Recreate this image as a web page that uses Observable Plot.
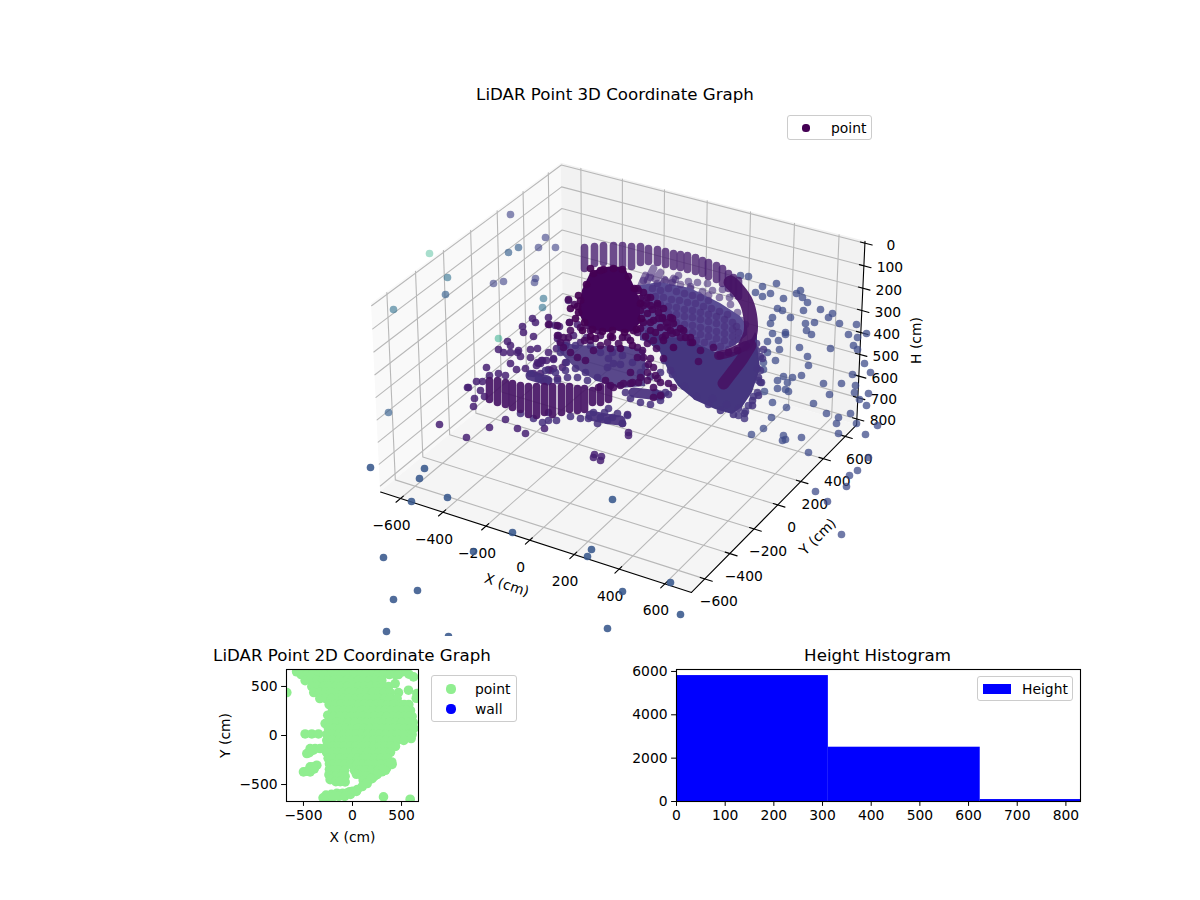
<!DOCTYPE html>
<html><head><meta charset="utf-8">
<script src="https://cdn.jsdelivr.net/npm/d3@7"></script>
<script src="https://cdn.jsdelivr.net/npm/@observablehq/plot@0.6"></script>
<style>
html,body{margin:0;background:#fff}
#page{position:relative;width:1200px;height:900px;overflow:hidden;font-family:"DejaVu Sans",sans-serif;color:#000}
#page svg{position:absolute;background:none}
.title{position:absolute;font-size:16.67px;line-height:20px;white-space:nowrap;transform:translate(-50%,-50%)}
.legend{position:absolute;box-sizing:border-box;border:1px solid #ccc;border-radius:3px;background:rgba(255,255,255,.8);font-size:13.89px}
.legend span{position:absolute;white-space:nowrap;line-height:16px}
.legend i{position:absolute;display:block}
</style></head><body><div id="page"></div>
<script>
// ---------- 3D axis ticks (cm) ----------
const xTicks3d=[-600,-400,-200,0,200,400,600];
const yTicks3d=[-600,-400,-200,0,200,400,600];
const hTicks3d=[0,100,200,300,400,500,600,700,800];
// ---------- points as read on the view plane of the 3D picture ----------
const farGreen=[[429,253]];
const nearGreen=[[498,338]];
const tealFar=[[447,277],[393,309],[543,298],[542,307]];
const blueFar=[[445,294],[508,252],[518,247],[388,412]];
const purpleFar=[[510,214],[545,237],[538,247],[555,247],[503,281],[493,283],[535,278],[534,282]];
const leftScatter=[[568,300],[532,318],[535,322],[522,326],[523,332],[533,336],[548,317],[549,324],[555,325],[559,326],[558,335],[557,338],[569,322],[577,324],[498,349],[503,352],[510,352],[507,341],[510,345],[518,350],[517,352],[520,356],[530,349],[530,357],[537,348],[541,360],[546,360],[537,362],[553,358],[486,367],[467,387],[480,390],[482,381],[489,375],[498,373],[505,375],[474,398],[473,406],[468,387],[476,381],[484,396],[439,424],[466,437],[489,427],[505,419],[517,428],[525,433],[544,428],[627,414],[622,423],[628,432],[628,435],[594,454],[593,457],[601,456],[600,460],[550,370],[542,360],[538,363],[533,373],[540,373],[543,380],[557,378],[562,367],[565,362],[553,359],[540,363],[536,365],[548,369],[553,368],[510,363],[516,369],[525,368],[548,352],[556,348],[566,342],[573,335],[580,342],[586,337]];
const rightScatter=[[740,275],[748,276],[762,286],[776,283],[770,293],[762,296],[755,292],[783,298],[800,290],[796,293],[802,297],[807,302],[820,309],[832,313],[828,317],[839,323],[856,324],[866,333],[848,334],[857,337],[853,345],[857,349],[830,348],[803,310],[790,317],[777,308],[782,310],[772,317],[770,323],[805,323],[814,322],[806,330],[811,334],[772,333],[785,332],[785,334],[778,340],[767,341],[779,349],[767,352],[799,347],[807,356],[808,365],[775,360],[763,362],[763,369],[783,376],[792,377],[787,382],[801,375],[777,380],[823,383],[841,383],[852,374],[864,363],[870,372],[855,385],[854,392],[868,393],[859,399],[866,405],[829,394],[813,403],[764,391],[777,388],[785,389],[788,391],[772,402],[786,407],[826,413],[838,417],[850,413],[856,423],[877,425],[865,434],[838,433],[771,417],[763,428],[751,434],[783,435],[801,437],[782,440],[785,439],[808,452],[868,457],[857,470],[849,475],[846,486],[815,491],[827,501],[841,534],[836,423]];
const rightNearEdge=[[744,418],[738,415],[753,396],[758,380],[756,343],[763,349],[762,358],[760,370],[761,382],[757,392],[745,411],[748,405]];
const bottomScatter=[[370,467],[424,468],[419,478],[411,501],[447,497],[612,499],[512,532],[473,551],[591,549],[587,556],[670,582],[622,591],[680,614],[607,628],[448,636],[386,631],[417,590],[393,599],[383,557]];
// columns of overlapping points: x, top, bottom
const backColumnX=[584,594,603,613,622,631,640,648,657,665,673,680,687,695,702,708,716,722,728,733,738];
const backColumnTop=[247,246,245,245,245,246,246,248,249,251,253,254,255,257,260,262,265,268,273,277,280];
const backColumnBot=[268,263,262,264,265,266,262,261,262,264,266,267,269,271,273,276,279,283,288,293,296];
const slantFromX=[653,665,673,682,690,698,708,645,660], slantFromY=[268,280,278,290,288,295,295,275,272];
const slantToX=[647,658,665,675,683,690,697,641,655], slantToY=[280,288,293,298,300,303,307,284,279];
const frontColumnX=[489,497,505,512,520,528,536,544,552,561,569,577,584,592,600,608];
const frontColumnTop=[380,380,382,383,385,386,386,386,386,386,386,388,388,390,386,386];
const frontColumnBot=[399,402,404,407,409,414,415,412,414,412,409,410,409,402,402,399];
const domeDots=[[643,280],[650,277],[657,283],[664,279],[672,282],[680,284],[652,288],[660,290],[668,288],[676,291],[684,293],[692,295],[700,297],[708,300],[655,296],[663,297],[671,299],[679,300],[687,302],[695,303],[703,306],[711,308],[719,311],[727,314],[660,304],[668,306],[676,307],[684,309],[692,310],[700,312],[708,314],[716,316],[724,319],[732,322],[736,326],[668,313],[676,314],[684,316],[692,317],[700,319],[708,321],[716,323],[724,326],[732,329],[738,332],[676,322],[684,324],[692,325],[700,327],[708,329],[716,331],[724,333],[732,336],[738,339],[684,331],[692,332],[700,334],[708,336],[716,338],[724,340],[732,343],[696,340],[704,342],[712,344],[720,346],[728,349]];
const domeRim=[[678,275],[675,279],[697,282],[707,283],[712,290],[719,297],[730,304],[737,312],[741,320],[690,286],[702,291],[688,281],[722,289],[729,297],[745,324]];
const domeLowerEdge=[[664,360],[672,374],[684,386],[696,396],[708,404],[720,410],[733,414],[744,413],[752,405],[758,395],[760,382],[757,368],[760,356],[752,400],[738,408],[726,404],[712,398],[756,350],[758,377]];
const midCluster=[[565,345],[590,345],[600,352],[612,352],[622,355],[632,362],[645,366],[575,345],[608,358],[620,364],[560,352],[566,362],[575,368],[585,372],[545,370],[555,372],[565,370],[640,372],[650,376],[660,372],[670,370],[655,392],[665,392],[530,373],[538,378],[547,380],[557,380],[567,377],[577,377],[587,380],[597,377],[607,367],[613,363],[593,412],[600,417],[608,408],[617,413],[622,423],[627,415],[588,418],[580,418],[548,420],[542,422],[533,418],[520,413],[607,420],[597,423],[604,412],[612,417],[548,412],[556,420],[570,416],[625,392],[630,398],[640,402],[650,404],[660,400],[668,394]];
const darkArms=[[548,324],[568,299],[574,304],[557,325],[569,322],[570,330],[580,327],[587,325],[590,330],[597,330],[607,328],[557,335],[563,337],[568,337],[560,342],[563,347],[570,352],[577,357],[585,360],[593,350],[600,345],[607,342],[618,343],[627,337],[637,332],[637,357],[643,357],[650,358],[637,347],[647,343],[653,340],[662,337],[672,333],[680,337],[690,342],[700,350],[713,347],[720,355],[728,352],[737,350],[698,361],[663,358],[653,367],[647,372],[640,377],[632,382],[623,383],[613,387],[598,387],[660,382],[653,387],[668,383],[673,387],[653,397],[660,395],[610,385],[620,385],[630,383],[638,382],[647,380],[657,378],[605,380],[630,372],[655,375],[610,348],[642,350],[656,348],[648,364],[584,340],[600,335],[590,340]];
const darkDiagonal=[[637,288],[643,292],[650,297],[657,303],[663,308],[662,317],[670,317],[673,323],[667,327],[683,330],[690,337],[640,310],[647,313],[653,320],[660,327],[643,322],[650,330],[637,320],[633,330],[627,323],[640,298],[646,303],[652,309],[643,305],[635,300],[630,340],[645,336],[655,332],[665,335],[612,337],[622,337],[595,338],[638,290],[647,297],[657,305],[672,318],[680,328],[685,337],[692,342],[662,318],[670,330],[663,340],[673,347],[650,305],[658,312],[666,322],[676,332],[640,328],[650,322],[658,318],[632,345],[620,348]];
const blobEdge=[[580,300],[578,312],[584,322],[592,329],[602,331],[612,330],[624,332],[636,329],[641,318],[640,303],[634,288],[628,276],[622,269],[613,268],[603,269],[593,273],[586,284],[577,306],[590,268],[600,270],[575,318],[582,330],[590,336],[610,336],[570,308],[578,295]];
// thick streaks of overlapping points
const blueStreak3=[[530,375],[547,380]];
const blueStreak4=[[590,415],[605,418],[620,420]];
const blueStreak5=[[633,392],[660,395]];
const ribbonUpper=[[730,282],[738,290],[746,302],[750,318],[750,332],[745,344]];
const ribbonLower=[[750,345],[742,358],[733,370],[723,383]];
const ribbonBranch=[[718,355],[730,352],[745,345]];
// ---------- dense silhouettes: upper and lower outline ----------
const blobUpper=[[578,312],[582,290],[590,273],[600,268],[613,266],[625,268],[632,282],[640,300]];
const blobLower=[[578,312],[585,325],[595,330],[605,332],[615,330],[625,333],[635,330],[640,322]];
const domeBackUpper=[[640,285],[660,282],[690,288],[720,303],[740,316],[747,326]];
const domeBackLower=[[640,340],[660,345],[690,350],[720,352],[735,345],[747,335]];
const domeUpper=[[645,330],[665,337],[685,338],[700,345],[715,352],[735,352],[745,345],[752,338],[755,332],[757,335],[757,340]];
const domeLower=[[645,340],[660,352],[668,370],[678,386],[695,400],[715,409],[732,414],[742,407],[752,392],[760,368],[757,345]];
const midUpper=[[556,340],[575,345],[600,346],[625,346],[645,350]];
const midLower=[[558,350],[575,368],[597,381],[620,388],[645,386]];
// ---------- 2D panel ----------
const scan2d=[
[-570,650],[-510,650],[-450,650],[-390,650],[-330,650],[-270,650],[-210,650],[-150,650],[-90,650],[-30,650],[30,650],[90,650],[150,650],[210,650],[270,650],[330,650],[390,650],[450,650],[510,650],
[-524,622],[-464,622],[-404,622],[-344,622],[-284,622],[-224,622],[-164,622],[-104,622],[-44,622],[16,622],[76,622],[136,622],[196,622],[256,622],[316,622],[376,622],[436,622],[469,622],[622,598],[575,625],
[-483,560],[-423,560],[-363,560],[-303,560],[-243,560],[-183,560],[-123,560],[-63,560],[-3,560],[57,560],[117,560],[177,560],[237,560],[299,560],
[-415,499],[-355,499],[-295,499],[-235,499],[-175,499],[-115,499],[-55,499],[5,499],[65,499],[125,499],[185,499],[245,499],[305,499],[367,499],[435,530],[571,462],
[-395,438],[-335,438],[-275,438],[-215,438],[-155,438],[-95,438],[-35,438],[25,438],[85,438],[145,438],[205,438],[265,438],[325,438],[385,438],[469,438],[656,428],[650,380],
[-333,377],[-273,377],[-213,377],[-153,377],[-93,377],[-33,377],[27,377],[87,377],[147,377],[207,377],[267,377],[327,377],[387,377],[455,377],
[-238,316],[-178,316],[-118,316],[-58,316],[2,316],[62,316],[122,316],[182,316],[242,316],[302,316],[362,316],[422,316],[482,316],[574,316],[528,316],
[-204,255],[-144,255],[-84,255],[-24,255],[36,255],[96,255],[156,255],[216,255],[276,255],[336,255],[396,255],[456,255],[516,255],[591,255],[550,255],
[-252,207],[-192,194],[-132,194],[-72,194],[-12,194],[48,194],[108,194],[168,194],[228,194],[288,194],[348,194],[408,194],[468,194],[528,194],[608,194],[570,194],
[-279,122],[-219,133],[-159,133],[-99,133],[-39,133],[21,133],[81,133],[141,133],[201,133],[261,133],[321,133],[381,133],[441,133],[501,133],[561,133],[619,133],
[-245,72],[-185,72],[-125,72],[-65,72],[-5,72],[55,72],[115,72],[175,72],[235,72],[295,72],[355,72],[415,72],[475,72],[535,72],[595,72],[625,72],
[-483,16],[-415,16],[-347,16],[-262,11],[-202,11],[-142,11],[-82,11],[-22,11],[38,11],[98,11],[158,11],[218,11],[278,11],[338,11],[398,11],[458,11],[518,11],[578,11],[608,11],
[-262,-50],[-202,-50],[-142,-50],[-82,-50],[-22,-50],[38,-50],[98,-50],[158,-50],[218,-50],[278,-50],[338,-50],[398,-50],[458,-50],[523,-50],[598,-31],
[-466,-184],[-432,-133],[-381,-133],[-330,-133],[-440,-175],[-400,-150],
[-265,-111],[-205,-111],[-145,-111],[-85,-111],[-25,-111],[35,-111],[95,-111],[155,-111],[215,-111],[275,-111],[335,-111],[395,-111],[438,-111],
[-265,-172],[-205,-172],[-145,-172],[-85,-172],[-25,-172],[35,-172],[95,-172],[155,-172],[215,-172],[275,-172],[335,-172],[387,-172],
[-248,-233],[-188,-233],[-128,-233],[-68,-233],[-8,-233],[52,-233],[112,-233],[172,-233],[232,-233],[292,-233],[353,-233],
[-235,-290],[-197,-294],[-137,-294],[-77,-294],[-17,-294],[43,-294],[103,-294],[163,-294],[223,-294],[283,-294],[343,-294],[404,-294],[400,-270],[350,-330],[300,-370],[250,-400],
[-500,-371],[-432,-371],[-432,-320],[-364,-303],[-390,-340],[-465,-365],[-400,-320],
[-235,-345],[-200,-355],[-140,-355],[-80,-355],[20,-355],[80,-355],[140,-355],[200,-355],[260,-355],[336,-355],[300,-340],
[-240,-400],[-228,-416],[-168,-416],[-108,-416],[-75,-416],[40,-395],[100,-416],[160,-416],[220,-416],[251,-390],
[-228,-450],[-170,-470],[-125,-470],[-75,-473],[110,-460],[146,-475],[200,-440],
[-270,-607],[-215,-600],[-160,-590],[-100,-590],[-30,-575],[50,-550],[100,-520],[0,-570],[-50,-585],[-130,-598],
[-300,-635],[-260,-640],[-200,-625],[-140,-620],[-80,-620],[-20,-600],[40,-570],[180,-440],[150,-490],
[-670,438],[316,-626],[588,-650]];
const xTicks2d=[-500,0,500], yTicks2d=[-500,0,500];
// ---------- histogram ----------
const binStart=[0,312,624], binEnd=[312,624,936], binCount=[5810,2505,90];
const histXTicks=[0,100,200,300,400,500,600,700,800], histYTicks=[0,2000,4000,6000];

// ---------- camera for the 3D box ----------
const xLim=[-695,715], yLim=[-705,705], hLim=[828,-8]; // hLim: floor, ceiling
const half=[.595,.595,.36];
const U=[.866,.5,0],V=[-.25,.433,.866],W=[.433,-.75,.5];
const dot3=(a,b)=>a[0]*b[0]+a[1]*b[1]+a[2]*b[2];
function project(X,Y,H){
  const q=[(2*(X-xLim[0])/(xLim[1]-xLim[0])-1)*half[0],(2*(Y-yLim[0])/(yLim[1]-yLim[0])-1)*half[1],(2*(H-hLim[0])/(hLim[1]-hLim[0])-1)*half[2]];
  const d=10-dot3(q,W);
  return {x:622.5+2980*dot3(q,U)/d,y:366.1-2980*dot3(q,V)/d};
}
const [x0,x1]=xLim,[y0,y1]=yLim,[hb,ht]=hLim;
const pane=(a,b)=>[{a:project(...a[0]),b:project(...b[0])},{a:project(...a[1]),b:project(...b[1])}];
const paneMark=(p,fill)=>Plot.area(p,{x1:d=>d.a.x,y1:d=>d.a.y,x2:d=>d.b.x,y2:d=>d.b.y,fill});
const gridLines=[];
const addLine=(id,pts)=>pts.forEach(p=>gridLines.push({id,...project(...p)}));
xTicks3d.forEach(t=>addLine("x"+t,[[t,y0,hb],[t,y1,hb],[t,y1,ht]]));
yTicks3d.forEach(t=>addLine("y"+t,[[x1,t,hb],[x0,t,hb],[x0,t,ht]]));
hTicks3d.forEach(t=>addLine("h"+t,[[x0,y0,t],[x0,y1,t],[x1,y1,t]]));
const axisLines=[];
const addAxis=(id,pts)=>pts.forEach(p=>axisLines.push({id,...project(...p)}));
addAxis("ax",[[x0,y0,hb],[x1,y0,hb]]);
addAxis("ay",[[x1,y0,hb],[x1,y1,hb]]);
addAxis("ah",[[x1,y1,ht],[x1,y1,hb]]);
xTicks3d.forEach(t=>addAxis("tx"+t,[[t,y0+20,hb],[t,y0-32,hb]]));
yTicks3d.forEach(t=>addAxis("ty"+t,[[x1-20,t,hb],[x1+32,t,hb]]));
hTicks3d.forEach(t=>addAxis("th"+t,[[x1-20,y1,t],[x1+32,y1,t]]));
const tickText=(vals,fn,dx,dy)=>Plot.text(vals,{x:d=>fn(d).x,y:d=>fn(d).y,text:d=>String(d).replace("-","−"),dx,dy,fontSize:13.89,fill:"#000"});
const dots=(p,t,o)=>Plot.dot(p,{x:d=>d[0],y:d=>d[1],r:3.8,fill:()=>t,fillOpacity:o});
const streak=(p,t,w,o=.92)=>Plot.line(p,{x:d=>d[0],y:d=>d[1],stroke:()=>t,strokeWidth:w,strokeOpacity:o,strokeLinecap:"round",strokeLinejoin:"round",curve:"catmull-rom"});
const columns=(xs,tops,bots,t,o)=>Plot.link(xs,{x1:d=>d,x2:d=>d,y1:(d,i)=>tops[i],y2:(d,i)=>bots[i],stroke:()=>t,strokeWidth:7.6,strokeOpacity:o,strokeLinecap:"round"});
const band=(upper,lower)=>upper.map((u,i)=>({u,l:lower[i]}));
const bandMark=(upper,lower,fill,fillOpacity=1)=>Plot.area(band(upper,lower),{x1:d=>d.u[0],y1:d=>d.u[1],x2:d=>d.l[0],y2:d=>d.l[1],fill,fillOpacity});

const chart3d=Plot.plot({width:640,height:506,margin:0,
  x:{domain:[290,930],axis:null},y:{domain:[636,130],axis:null},
  color:{type:"linear",scheme:"viridis",domain:[0,1]},
  style:{fontFamily:"DejaVu Sans",background:"none"},
  marks:[
   paneMark(pane([[x0,y0,hb],[x0,y1,hb]],[[x0,y0,ht],[x0,y1,ht]]),"#f9f9f9"),
   paneMark(pane([[x0,y1,hb],[x1,y1,hb]],[[x0,y1,ht],[x1,y1,ht]]),"#f2f2f2"),
   paneMark(pane([[x0,y0,hb],[x1,y0,hb]],[[x0,y1,hb],[x1,y1,hb]]),"#f5f5f5"),
   Plot.line(gridLines,{x:"x",y:"y",z:"id",stroke:"#b8b8b8",strokeWidth:1.1}),
   Plot.line(axisLines,{x:"x",y:"y",z:"id",stroke:"#000",strokeWidth:1.1}),
   tickText(xTicks3d,d=>project(d,y0,hb),-9,27),
   tickText(yTicks3d,d=>project(x1,d,hb),14,23),
   tickText(hTicks3d,d=>project(x1,y1,d),26,2),
   Plot.text([0],{x:()=>project(0,y0,hb).x,y:()=>project(0,y0,hb).y,dx:-23,dy:45,rotate:18,text:()=>"X (cm)",fontSize:13.89,fill:"#000"}),
   Plot.text([0],{x:()=>project(x1,0,hb).x,y:()=>project(x1,0,hb).y,dx:40,dy:32,rotate:-45,text:()=>"Y (cm)",fontSize:13.89,fill:"#000"}),
   Plot.text([0],{x:()=>project(x1,y1,400).x,y:()=>project(x1,y1,400).y,dx:56,dy:8,rotate:-90,text:()=>"H (cm)",fontSize:13.89,fill:"#000"}),
   dots(farGreen,.62,.4),dots(tealFar,.36,.6),dots(blueFar,.3,.65),dots(purpleFar,.2,.62),dots(nearGreen,.6,.5),
   dots(bottomScatter,.27,.88),dots(rightScatter,.23,.74),
   columns(backColumnX,backColumnTop,backColumnBot,.08,.78),
   Plot.link(slantFromX,{x1:d=>d,y1:(d,i)=>slantFromY[i],x2:(d,i)=>slantToX[i],y2:(d,i)=>slantToY[i],stroke:()=>.12,strokeWidth:7.5,strokeOpacity:.6,strokeLinecap:"round"}),
   dots(domeRim,.13,.6),
   bandMark(domeBackUpper,domeBackLower,"#5a4d94"),
   dots(domeDots,.12,.55),
   dots(rightNearEdge,.16,.82),
   dots(leftScatter,.09,.85),
   bandMark(domeUpper,domeLower,"#45367f"),
   dots(domeLowerEdge,.15,.88),
   bandMark(midUpper,midLower,"#43307c",.88),
   streak(blueStreak3,.13,10),streak(blueStreak4,.13,10),streak(blueStreak5,.13,10),
   dots(midCluster,.14,.85),
   columns(frontColumnX,frontColumnTop,frontColumnBot,.05,.92),
   streak(ribbonUpper,.05,14),streak(ribbonLower,.05,12),streak(ribbonBranch,.04,9),
   dots(darkArms,.03,.88),
   dots(darkDiagonal,.015,.92),
   bandMark(blobUpper,blobLower,"#43045a"),
   dots(blobEdge,0,.92)
  ]});
chart3d.style.left="290px";chart3d.style.top="130px";

const axisStyle={fontFamily:"DejaVu Sans",fontSize:"13.89px",background:"none",color:"#000"};
const plain=d=>String(d).replace("-","−");
const chart2d=Plot.plot({width:300,height:190,marginLeft:76,marginRight:92,marginTop:9,marginBottom:49,
  x:{domain:[-673,673]},y:{domain:[-673,673]},style:axisStyle,
  marks:[
   Plot.dot(scan2d,{x:d=>d[0],y:d=>d[1],r:4.8,fill:"#90ee90",clip:true}),
   Plot.frame({stroke:"#000",strokeWidth:1.1}),
   Plot.axisX({ticks:xTicks2d,tickSize:4.9,tickPadding:4,tickFormat:plain,label:"X (cm)",labelAnchor:"center",labelArrow:"none",labelOffset:40,strokeOpacity:1}),
   Plot.axisY({ticks:yTicks2d,tickSize:4.9,tickPadding:4,tickFormat:plain,label:"Y (cm)",labelAnchor:"center",labelArrow:"none",labelOffset:66,strokeOpacity:1})
  ]});
chart2d.style.left="210px";chart2d.style.top="660px";

const chartHist=Plot.plot({width:480,height:190,marginLeft:66,marginRight:10,marginTop:9,marginBottom:49,
  x:{domain:[0,830]},y:{domain:[0,6090]},style:axisStyle,
  marks:[
   Plot.rectY(binCount,{x1:(d,i)=>binStart[i],x2:(d,i)=>binEnd[i],y:d=>d,fill:"#0000ff",clip:true,inset:0}),
   Plot.frame({stroke:"#000",strokeWidth:1.1}),
   Plot.axisX({ticks:histXTicks,tickSize:4.9,tickPadding:4,tickFormat:plain,label:null,strokeOpacity:1}),
   Plot.axisY({ticks:histYTicks,tickSize:4.9,tickPadding:4,tickFormat:plain,label:null,strokeOpacity:1})
  ]});
chartHist.style.left="610px";chartHist.style.top="660px";

const page=document.getElementById("page");
page.append(chart3d,chart2d,chartHist);
function title(text,cx,cy){const d=document.createElement("div");d.className="title";d.textContent=text;d.style.left=cx+"px";d.style.top=cy+"px";page.append(d);}
title("LiDAR Point 3D Coordinate Graph",615,95);
title("LiDAR Point 2D Coordinate Graph",352,656);
title("Height Histogram",877.5,656);
function legend(box,items){const d=document.createElement("div");d.className="legend";
  d.style.cssText=`left:${box[0]}px;top:${box[1]}px;width:${box[2]}px;height:${box[3]}px`;
  items.forEach(it=>{const m=document.createElement("i");
    m.style.cssText=it.swatch?`left:${it.mx}px;top:${it.my-5}px;width:28px;height:10px;background:${it.c}`:`left:${it.mx-it.r}px;top:${it.my-it.r}px;width:${2*it.r}px;height:${2*it.r}px;border-radius:50%;background:${it.c}`;
    const s=document.createElement("span");s.textContent=it.t;s.style.left=it.tx+"px";s.style.top=(it.my-8)+"px";d.append(m,s);});
  page.append(d);}
legend([787,115,85,25],[{c:"#440154",t:"point",mx:18,my:12,r:3.6,tx:43}]);
legend([431,675,86,47],[{c:"#90ee90",t:"point",mx:19,my:13,r:4.6,tx:43},{c:"#0000ff",t:"wall",mx:19,my:33,r:4.6,tx:43}]);
legend([977,676,96,25],[{c:"#0000ff",t:"Height",mx:5,my:12,swatch:true,tx:44}]);
</script></body></html>
